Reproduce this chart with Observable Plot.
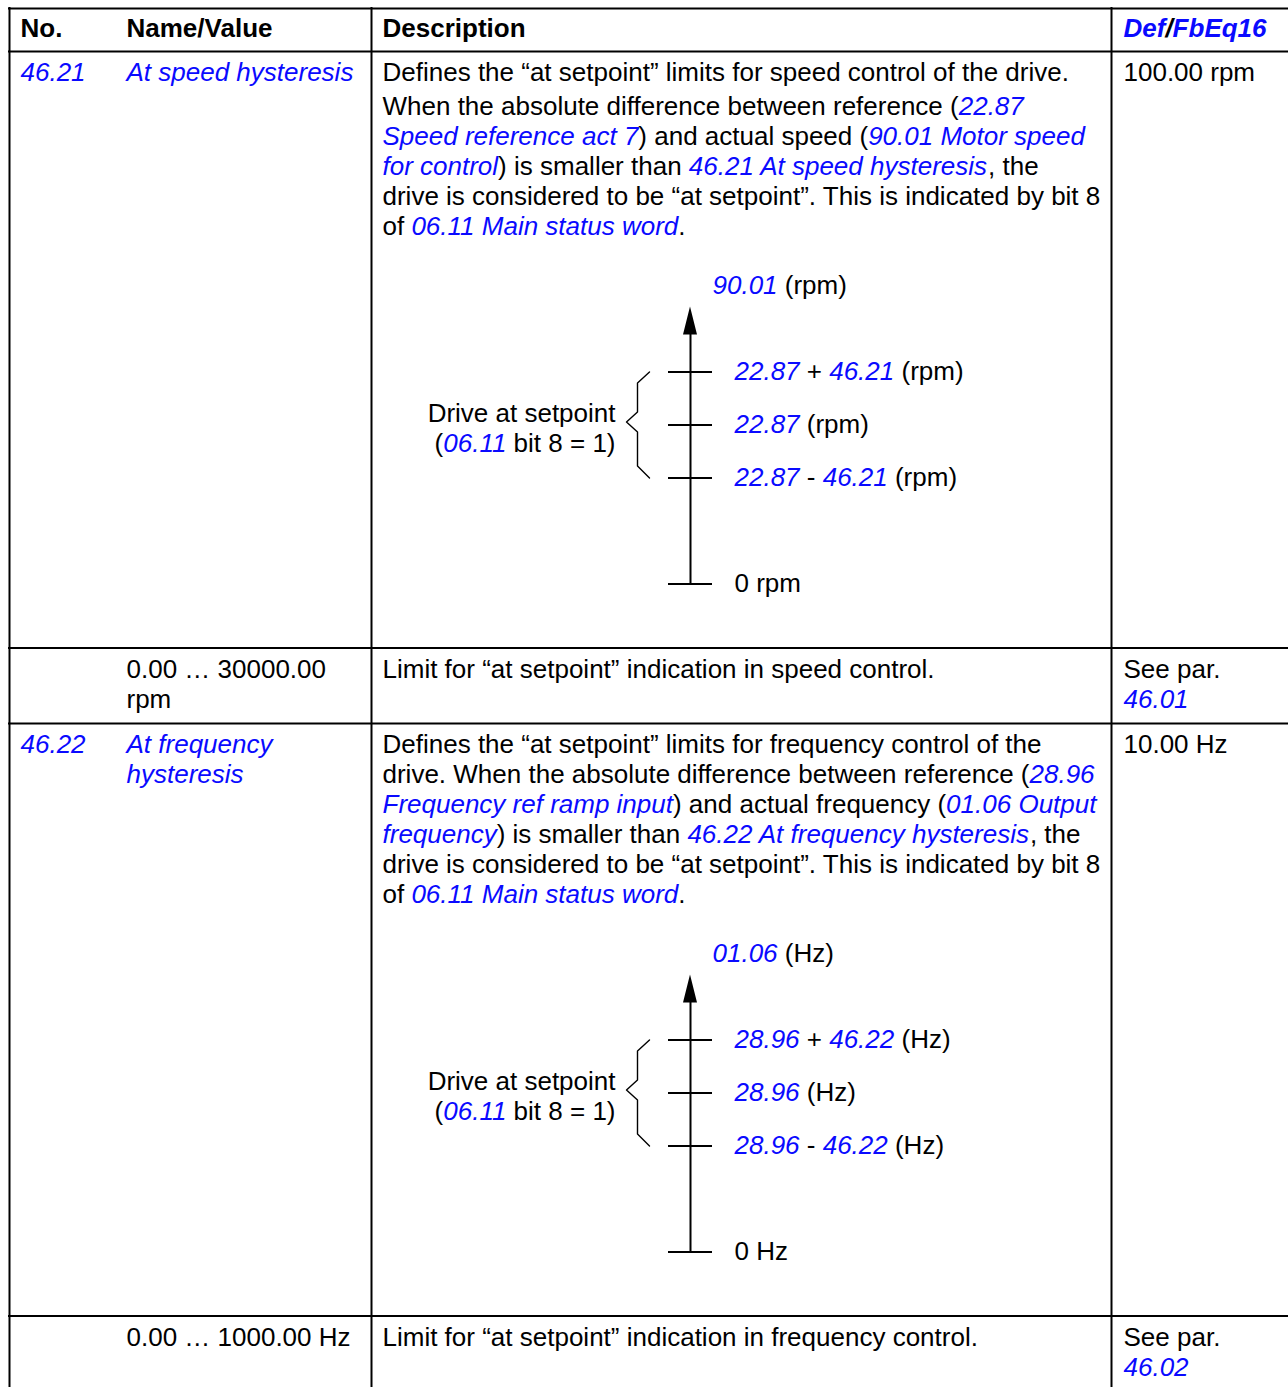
<!DOCTYPE html>
<html>
<head>
<meta charset="utf-8">
<script src="https://cdn.jsdelivr.net/npm/d3@7"></script>
<script src="https://cdn.jsdelivr.net/npm/@observablehq/plot@0.6"></script>
<style>
  html, body { margin: 0; padding: 0; background: #ffffff; }
  #chart svg { display: block; }
</style>
</head>
<body>
<div id="chart"></div>
<script>
// ---------------- DATA (text in [brackets] is a parameter reference, shown blue italic) ----------------
const headers = ["No.", "Name/Value", "Description", "[Def]/[FbEq16]"];

const paramNumbers = ["[46.21]", "[46.22]"];
const paramNames = [
  ["[At speed hysteresis]"],
  ["[At frequency]", "[hysteresis]"]
];
const paramDescriptions = [
  [
    ["Defines the “at setpoint” limits for speed control of the drive."],
    ["When the absolute difference between reference ([22.87]",
     "[Speed reference act 7]) and actual speed ([90.01 Motor speed]",
     "[for control]) is smaller than [46.21 At speed hysteresis], the",
     "drive is considered to be “at setpoint”. This is indicated by bit 8",
     "of [06.11 Main status word]."]
  ],
  [
    ["Defines the “at setpoint” limits for frequency control of the",
     "drive. When the absolute difference between reference ([28.96]",
     "[Frequency ref ramp input]) and actual frequency ([01.06 Output]",
     "[frequency]) is smaller than [46.22 At frequency hysteresis], the",
     "drive is considered to be “at setpoint”. This is indicated by bit 8",
     "of [06.11 Main status word]."]
  ]
];
const paramDefaults = ["100.00 rpm", "10.00 Hz"];

const rangeValues = [["0.00 … 30000.00", "rpm"], ["0.00 … 1000.00 Hz"]];
const rangeDescriptions = [
  "Limit for “at setpoint” indication in speed control.",
  "Limit for “at setpoint” indication in frequency control."
];
const rangeDefaults = [["See par.", "[46.01]"], ["See par.", "[46.02]"]];

// Diagram (schematic levels: reference = 3 units, hysteresis = 1 unit)
const diagramSignals = ["[90.01] (rpm)", "[01.06] (Hz)"];
const diagramLevelLabels = [
  ["[22.87] + [46.21] (rpm)", "[22.87] (rpm)", "[22.87] - [46.21] (rpm)", "0 rpm"],
  ["[28.96] + [46.22] (Hz)", "[28.96] (Hz)", "[28.96] - [46.22] (Hz)", "0 Hz"]
];
const schematicReference = 3;
const schematicHysteresis = 1;
const bracketLabels = ["Drive at setpoint", "([06.11] bit 8 = 1)"];

// ---------------- LAYOUT ----------------
const W = 1288, H = 1387;
const FONT = '"Liberation Sans", Arial, Helvetica, sans-serif';
const FS = 26;
const BLUE = "#0a0aff";
const colLines = [9, 371, 1111];
const colText = [20, 126, 382, 1123];
const LH = 30, PARA = 4, FIRST = 29.5, PADB = 16;

const ctx = document.createElement("canvas").getContext("2d");
function measure(t, italic, bold) {
  ctx.font = `${italic ? "italic " : ""}${bold ? "bold " : ""}${FS}px ${FONT}`;
  return ctx.measureText(t).width;
}
function parse(s) {
  const out = []; const re = /\[([^\]]*)\]/g; let last = 0, m;
  while ((m = re.exec(s))) {
    if (m.index > last) out.push({t: s.slice(last, m.index), ref: false});
    out.push({t: m[1], ref: true});
    last = re.lastIndex;
  }
  if (last < s.length) out.push({t: s.slice(last), ref: false});
  return out;
}
const texts = [];
function addLine(s, x, y, {bold = false, anchor = "start", italicAll = false} = {}) {
  const segs = parse(s).map(g => ({...g, it: g.ref || italicAll}));
  const widths = segs.map(g => measure(g.t, g.it, bold));
  const total = d3.sum(widths);
  let cx = anchor === "end" ? x - total : x;
  segs.forEach((g, i) => {
    const lead = g.t.match(/^\s*/)[0];
    const trimmed = g.t.trim();
    if (trimmed.length) {
      texts.push({x: cx + (lead ? measure(lead, g.it, bold) : 0), y, text: trimmed, ref: g.ref, it: g.it, bold});
    }
    cx += widths[i];
  });
}

const hLines = [], vLines = [], ticks = [], axes = [], arrows = [], braces = [];
let y = 8;
hLines.push(y);
headers.forEach((h, i) => addLine(h, colText[i], y + 28, {bold: true, italicAll: i === 3}));
y += 43;
hLines.push(y);

paramNumbers.forEach((num, i) => {
  // parameter row
  let top = y, base = top + FIRST;
  addLine(num, colText[0], base);
  paramNames[i].forEach((l, k) => addLine(l, colText[1], base + k * LH));
  addLine(paramDefaults[i], colText[3], base);
  let yy = base, lastBase = base;
  paramDescriptions[i].forEach((para, p) => {
    if (p > 0) yy += PARA;
    para.forEach(l => { addLine(l, colText[2], yy); lastBase = yy; yy += LH; });
  });
  // diagram
  const ax = colLines[1] + 319;
  const dTop = lastBase + 59;
  const zeroY = dTop + 290;
  const unit = 53;
  const levels = [schematicReference + schematicHysteresis, schematicReference, schematicReference - schematicHysteresis, 0];
  addLine(diagramSignals[i], ax + 22, dTop);
  levels.forEach((lv, k) => {
    const ty = zeroY - lv * unit;
    ticks.push({y: ty, x1: ax - 22, x2: ax + 22});
    addLine(diagramLevelLabels[i][k], ax + 44, ty + 7.5);
  });
  const tipY = dTop + 13, baseY = dTop + 41;
  arrows.push({id: i, y: tipY, x1: ax, x2: ax}, {id: i, y: baseY, x1: ax - 7, x2: ax + 7});
  axes.push({x: ax, y1: tipY + 12, y2: zeroY});
  const bt = zeroY - levels[0] * unit, bb = zeroY - levels[2] * unit, mid = zeroY - levels[1] * unit;
  const tip = mid - 3;
  [[ax - 41, bt], [ax - 53, bt + 11], [ax - 53, tip - 10], [ax - 64, tip],
   [ax - 53, tip + 10], [ax - 53, bb - 12], [ax - 41, bb]].forEach(([bx, by]) => braces.push({id: i, x: bx, y: by}));
  addLine(bracketLabels[0], ax - 75, mid - 3, {anchor: "end"});
  addLine(bracketLabels[1], ax - 75, mid + 27, {anchor: "end"});
  y = zeroY + 64;
  hLines.push(y);

  // value-range row
  top = y; base = top + FIRST;
  rangeValues[i].forEach((l, k) => addLine(l, colText[1], base + k * LH));
  addLine(rangeDescriptions[i], colText[2], base);
  rangeDefaults[i].forEach((l, k) => addLine(l, colText[3], base + k * LH));
  y = base + (Math.max(rangeValues[i].length, rangeDefaults[i].length) - 1) * LH + PADB;
  if (y < H) hLines.push(y);
});
colLines.forEach(x => vLines.push({x, y1: hLines[0] - 1, y2: H}));

const textMark = (filter, style, weight) => Plot.text(texts.filter(filter), {
  x: "x", y: "y", text: "text", textAnchor: "start", lineAnchor: "bottom",
  fontSize: FS, fontFamily: FONT, fontStyle: style, fontWeight: weight,
  fill: d => d.ref ? BLUE : "#000000"
});

const chart = Plot.plot({
  width: W, height: H,
  marginTop: 0, marginRight: 0, marginBottom: 0, marginLeft: 0,
  x: {domain: [0, W], range: [0, W], axis: null},
  y: {domain: [0, H], range: [0, H], axis: null},
  style: {background: "#ffffff"},
  marks: [
    Plot.ruleY(hLines.map(v => ({y: v})), {y: "y", x1: () => colLines[0] - 1, x2: () => W, stroke: "#000", strokeWidth: 2}),
    Plot.ruleX(vLines, {x: "x", y1: "y1", y2: "y2", stroke: "#000", strokeWidth: 2}),
    Plot.ruleX(axes, {x: "x", y1: "y1", y2: "y2", stroke: "#000", strokeWidth: 2}),
    Plot.ruleY(ticks, {y: "y", x1: "x1", x2: "x2", stroke: "#000", strokeWidth: 2}),
    Plot.areaX(arrows, {y: "y", x1: "x1", x2: "x2", z: "id", fill: "#000", curve: "linear"}),
    Plot.line(braces, {x: "x", y: "y", z: "id", stroke: "#000", strokeWidth: 1.4, curve: "linear"}),
    textMark(d => !d.it && !d.bold, "normal", "normal"),
    textMark(d => d.it && !d.bold, "italic", "normal"),
    textMark(d => !d.it && d.bold, "normal", "bold"),
    textMark(d => d.it && d.bold, "italic", "bold")
  ]
});
document.getElementById("chart").appendChild(chart);
</script>
</body>
</html>
